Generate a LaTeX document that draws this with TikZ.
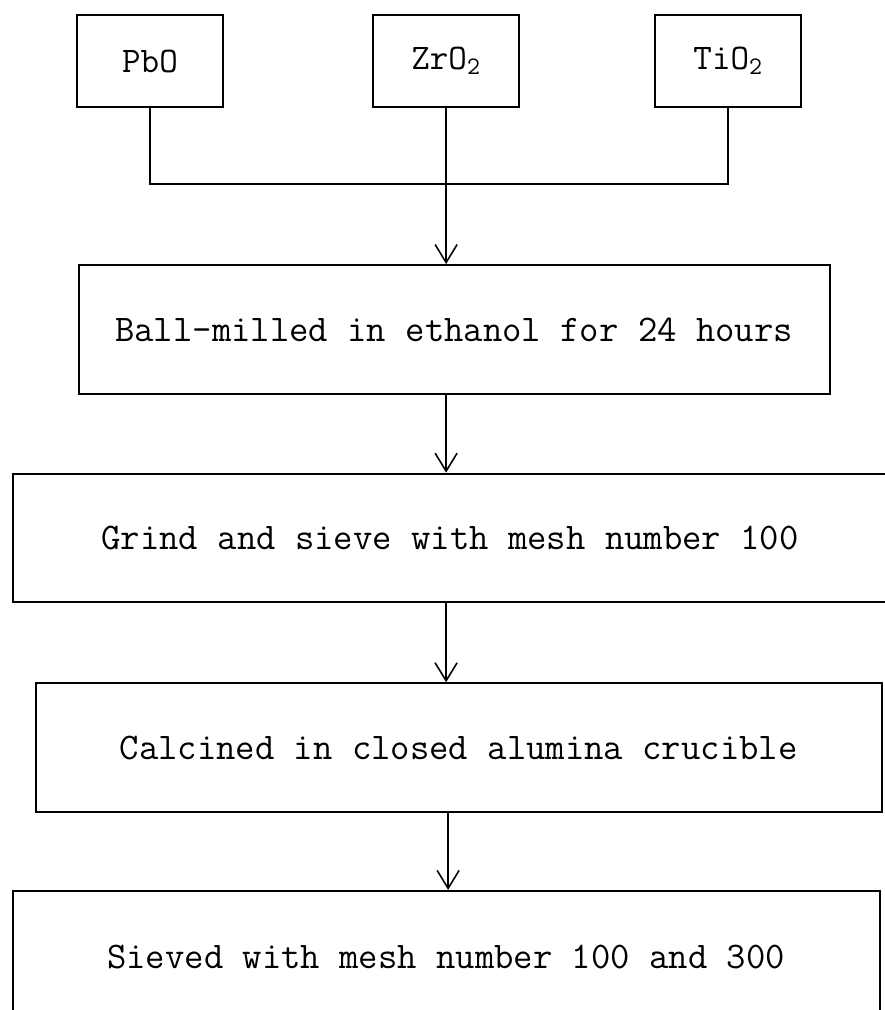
\documentclass[tikz,border=0pt]{standalone}
\usepackage{fontspec}
\usetikzlibrary{arrows.meta, positioning}

\begin{document}
\begin{tikzpicture}[
    oxide/.style={rectangle, draw=black, line width=1.2pt, minimum width=2.92cm, minimum height=1.84cm, text centered, font=\ttfamily\fontsize{20.5}{24}\selectfont},
    process/.style={rectangle, draw=black, line width=1.2pt, minimum height=2.57cm, text centered, font=\ttfamily\fontsize{21.4}{25}\selectfont},
    arr/.style={-{Straight Barb[length=3.6mm, width=4.4mm]}, line width=0.9pt},
    link/.style={line width=0.9pt},
]

\clip (0,0) rectangle (17.7,-20.2);

% Raw oxides
\node[oxide] (pbo) at (3.0,-1.22) {PbO};
\node[oxide, right=2.96cm of pbo] (zro2) {ZrO\textsubscript{2}};
\node[oxide, right=2.68cm of zro2] (tio2) {TiO\textsubscript{2}};

% Process steps
\node[process, minimum width=15.02cm, below=3.12cm of zro2, xshift=0.16cm] (ball) {Ball-milled in ethanol for 24 hours};
\node[process, minimum width=17.5cm, below=1.56cm of ball, xshift=-0.08cm] (grind) {Grind and sieve with mesh number 100};
\node[process, minimum width=16.92cm, below=1.58cm of grind, xshift=0.17cm] (calcine) {Calcined in closed alumina crucible};
\node[process, minimum width=17.34cm, minimum height=2.64cm, below=1.54cm of calcine, xshift=-0.25cm] (sieve) {Sieved with mesh number 100 and 300};

% Mixing
\coordinate[below=1.52cm of zro2.south] (join);
\draw[link] (pbo.south) |- (join) -| (tio2.south);

% Arrows
\draw[arr] (zro2.south) -- (zro2.south |- ball.north);
\draw[arr] (ball.south -| zro2.south) -- (grind.north -| zro2.south);
\draw[arr] (grind.south -| zro2.south) -- (calcine.north -| zro2.south);
\draw[arr] (calcine.south -| zro2.south) ++(0.04,0) coordinate (c1) -- (c1 |- sieve.north);

\end{tikzpicture}
\end{document}
